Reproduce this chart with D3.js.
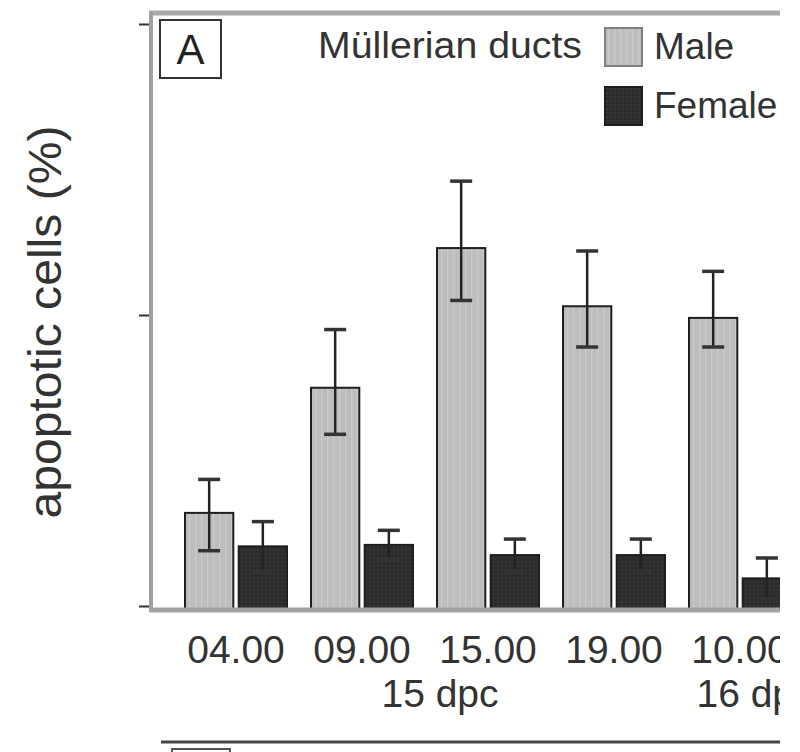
<!DOCTYPE html>
<html>
<head>
<meta charset="utf-8">
<script src="https://cdn.jsdelivr.net/npm/d3@7"></script>
<style>
  body { margin: 0; background: #fff; }
  svg { display: block; }
</style>
</head>
<body>
<div id="chart"></div>
<script>
const width = 780;   // the reference is cut off at the right
const height = 752;

// data (no tick labels, so units are arbitrary %)
const times = ["04.00", "09.00", "15.00", "19.00", "10.00"];
const days = [{ label: "15 dpc", from: 0, to: 3 }, { label: "16 dpc", from: 4, to: 4 }];
const sexes = ["Male", "Female"];
const maleValues = [3.2, 7.5, 12.3, 10.3, 9.9];
const maleErrUp = [1.15, 2.0, 2.3, 1.9, 1.6];
const maleErrDown = [1.3, 1.6, 1.8, 1.4, 1.0];
const femaleValues = [2.05, 2.1, 1.75, 1.75, 0.95];
const femaleErr = [0.85, 0.5, 0.55, 0.55, 0.7];
const yTicks = [0, 10, 20];

const fills = { Male: "url(#maleFill)", Female: "url(#femaleFill)" };

const y = d3.scaleLinear().domain([0, 20]).range([606, 24]);
const x = d3.scaleBand().domain(times).range([173, 803]).padding(0);
const xSex = d3.scaleBand().domain(sexes).range([12, 114]).paddingInner(0.1);

const rows = times.map((t, i) => [
  { t, sex: "Male", v: maleValues[i], up: maleErrUp[i], down: maleErrDown[i] },
  { t, sex: "Female", v: femaleValues[i], up: femaleErr[i], down: femaleErr[i] }
]).flat();

const svg = d3.create("svg")
    .attr("width", width)
    .attr("height", height)
    .style("font-family", "Liberation Sans, Arial, sans-serif");

// textures for the bars, like the scanned figure
const defs = svg.append("defs");
const mp = defs.append("pattern").attr("id", "maleFill")
    .attr("patternUnits", "userSpaceOnUse").attr("width", 6).attr("height", 6);
mp.append("rect").attr("width", 6).attr("height", 6).attr("fill", "#bdbdbd");
mp.append("rect").attr("x", 3).attr("width", 1.5).attr("height", 6).attr("fill", "#c9c9c9");
const fp = defs.append("pattern").attr("id", "femaleFill")
    .attr("patternUnits", "userSpaceOnUse").attr("width", 4).attr("height", 4);
fp.append("rect").attr("width", 4).attr("height", 4).attr("fill", "#2c2c2c");
fp.append("rect").attr("x", 1).attr("y", 1).attr("width", 1.5).attr("height", 1.5).attr("fill", "#3d3d3d");

// frame: top border, left axis, baseline
svg.append("line").attr("x1", 150).attr("x2", width).attr("y1", 13).attr("y2", 13)
    .attr("stroke", "#a9a9a9").attr("stroke-width", 5);
svg.append("line").attr("x1", 151).attr("x2", 151).attr("y1", 11).attr("y2", 612)
    .attr("stroke", "#a0a0a0").attr("stroke-width", 4);

const yAxis = svg.append("g")
    .attr("transform", "translate(149,0)")
    .call(d3.axisLeft(y).tickValues(yTicks).tickFormat("").tickSize(10).tickSizeOuter(0));
yAxis.select(".domain").remove();
yAxis.selectAll(".tick line").attr("stroke", "#333").attr("stroke-width", 2);

// bars
svg.append("g")
  .selectAll("rect")
  .data(rows)
  .join("rect")
    .attr("x", d => x(d.t) + xSex(d.sex))
    .attr("y", d => y(d.v))
    .attr("width", xSex.bandwidth())
    .attr("height", d => y(0) - y(d.v) + 3)
    .attr("fill", d => fills[d.sex])
    .attr("stroke", "#1e1e1e")
    .attr("stroke-width", 2);

svg.append("line").attr("x1", 150).attr("x2", width).attr("y1", 610).attr("y2", 610)
    .attr("stroke", "#a3a3a3").attr("stroke-width", 5);

// error bars
const err = svg.append("g")
  .selectAll("g")
  .data(rows)
  .join("g")
    .attr("transform", d => `translate(${x(d.t) + xSex(d.sex) + xSex.bandwidth() / 2},0)`);
err.append("line")
    .attr("y1", d => y(d.v + d.up))
    .attr("y2", d => y(d.v - d.down))
    .attr("stroke", "#222").attr("stroke-width", 2.5);
err.selectAll("line.cap")
  .data(d => [d.v + d.up, d.v - d.down])
  .join("line")
    .attr("class", "cap")
    .attr("x1", -11).attr("x2", 11)
    .attr("y1", v => y(v)).attr("y2", v => y(v))
    .attr("stroke", "#333").attr("stroke-width", 3.5);

// x labels: times, then days
svg.append("g")
  .selectAll("text")
  .data(times)
  .join("text")
    .attr("x", d => x(d) + x.bandwidth() / 2)
    .attr("y", 663)
    .attr("text-anchor", "middle")
    .attr("font-size", 39)
    .attr("fill", "#333")
    .text(d => d);

svg.append("g")
  .selectAll("text")
  .data(days)
  .join("text")
    .attr("x", d => (x(times[d.from]) + x(times[d.to]) + x.bandwidth()) / 2 + 15)
    .attr("y", 707)
    .attr("text-anchor", "middle")
    .attr("font-size", 39)
    .attr("fill", "#333")
    .text(d => d.label);

// y label
svg.append("text")
    .attr("transform", "translate(61,322) rotate(-90)")
    .attr("text-anchor", "middle")
    .attr("font-size", 46)
    .attr("fill", "#333")
    .attr("textLength", 393)
    .attr("lengthAdjust", "spacingAndGlyphs")
    .text("apoptotic cells (%)");

// panel letter
svg.append("rect").attr("x", 160).attr("y", 20).attr("width", 61).attr("height", 58)
    .attr("fill", "#fff").attr("stroke", "#333").attr("stroke-width", 2);
svg.append("text").attr("x", 190.5).attr("y", 64).attr("text-anchor", "middle")
    .attr("font-size", 42).attr("fill", "#222").text("A");

// title + legend
svg.append("text").attr("x", 318).attr("y", 58)
    .attr("font-size", 37).attr("fill", "#333")
    .attr("textLength", 264).attr("lengthAdjust", "spacingAndGlyphs")
    .text("Müllerian ducts");

const legend = svg.append("g")
  .selectAll("g")
  .data(sexes)
  .join("g")
    .attr("transform", (d, i) => `translate(605,${28 + i * 59})`);
legend.append("rect")
    .attr("width", 37).attr("height", 38)
    .attr("fill", d => fills[d])
    .attr("stroke", d => d === "Male" ? "#808080" : "#1e1e1e")
    .attr("stroke-width", 2);
legend.append("text")
    .attr("x", 49).attr("y", 31)
    .attr("font-size", 37).attr("fill", "#333")
    .text(d => d);

// top edge of the next panel, just visible at the bottom
svg.append("line").attr("x1", 161).attr("x2", width).attr("y1", 742).attr("y2", 742)
    .attr("stroke", "#444").attr("stroke-width", 3);
svg.append("rect").attr("x", 172).attr("y", 749).attr("width", 58).attr("height", 30)
    .attr("fill", "none").attr("stroke", "#555").attr("stroke-width", 2);

document.getElementById("chart").appendChild(svg.node());
</script>
</body>
</html>
